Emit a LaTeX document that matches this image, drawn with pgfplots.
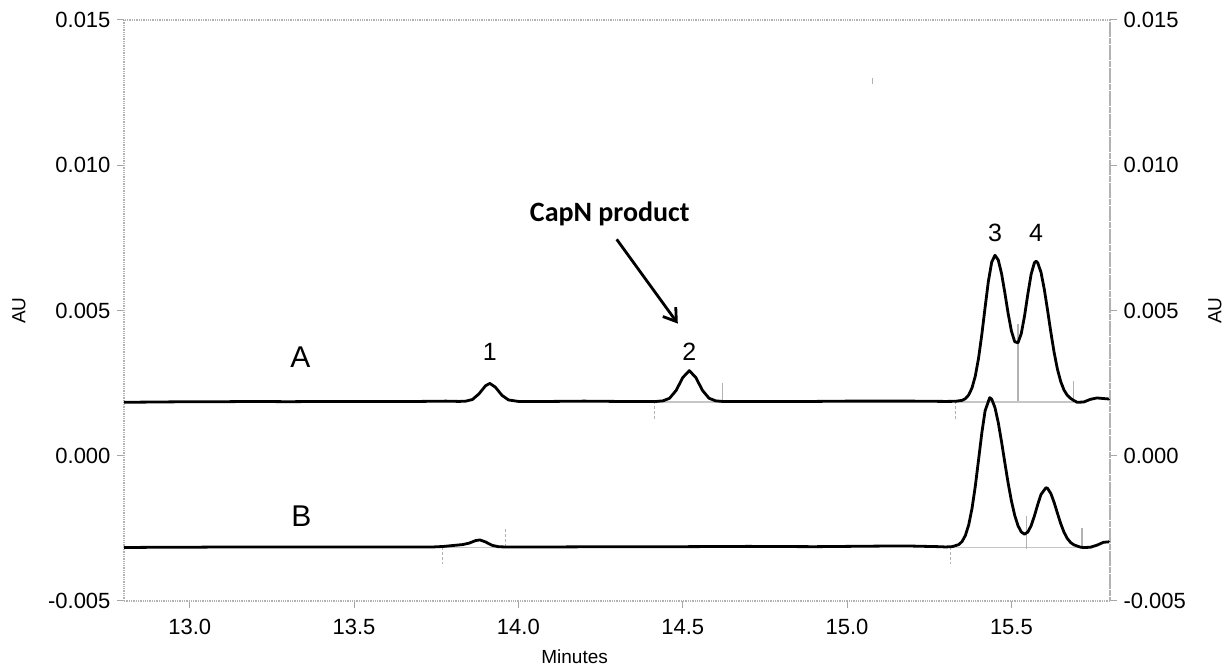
\documentclass[border=0pt]{standalone}
\usepackage{pgfplots}
\pgfplotsset{compat=1.18}
\usepackage{fontspec}
\setmainfont{Liberation Sans}
\newfontfamily\calibri{Carlito}
\usetikzlibrary{arrows.meta,calc}
\begin{document}
\begin{tikzpicture}
\pgfplotsset{
  chrom/.style={
    scale only axis, width=986pt, height=581pt,
    xmin=12.8, xmax=15.8, ymin=-0.005, ymax=0.015,
    ytick={-0.005,0,0.005,0.01,0.015},
    yticklabels={-0.005,0.000,0.005,0.010,0.015},
    scaled y ticks=false, scaled x ticks=false,
    tick align=outside, major tick length=7pt,
    tick style={gray!70, line width=1pt},
    axis line style={gray!60, densely dotted, line width=1.3pt},
    tick label style={font=\fontsize{22}{24}\selectfont, black},
    clip=false,
  }
}
\begin{axis}[chrom,
  xtick={13,13.5,14,14.5,15,15.5},
  xticklabels={13.0,13.5,14.0,14.5,15.0,15.5},
  xtick pos=bottom, ytick pos=left,
  xticklabel style={yshift=-8pt},
  yticklabel style={xshift=-3pt},
]
\coordinate (sw) at (rel axis cs:0,0);
\coordinate (ne) at (rel axis cs:1,1);
% integration baselines (trace A)
\addplot[gray!45, line width=1.5pt] coordinates {(14.415,0.00185) (14.62,0.00185)};
\addplot[gray!45, line width=1.5pt] coordinates {(15.33,0.00185) (15.69,0.00185)};
% integration baselines (trace B)
\addplot[gray!45, line width=1.5pt] coordinates {(13.77,-0.00316) (13.96,-0.00316)};
\addplot[gray!45, line width=1.5pt] coordinates {(15.315,-0.00316) (15.715,-0.00316)};
% integration markers A
\addplot[gray!60, line width=1.2pt, densely dashed] coordinates {(14.415,0.00187) (14.415,0.00121)};
\addplot[gray!60, line width=1.2pt] coordinates {(14.62,0.00187) (14.62,0.00252)};
\addplot[gray!60, line width=1.2pt, densely dashed] coordinates {(15.33,0.00187) (15.33,0.00121)};
\addplot[gray!60, line width=1.2pt] coordinates {(15.52,0.00187) (15.52,0.00455)};
\addplot[gray!60, line width=1.2pt] coordinates {(15.69,0.00187) (15.69,0.00259)};
\addplot[gray!60, line width=1pt] coordinates {(15.078,0.0128) (15.078,0.0130)};
% integration markers B
\addplot[gray!60, line width=1.2pt, densely dashed] coordinates {(13.77,-0.00314) (13.77,-0.00372)};
\addplot[gray!60, line width=1.2pt, densely dashed] coordinates {(13.96,-0.00314) (13.96,-0.00252)};
\addplot[gray!60, line width=1.2pt, densely dashed] coordinates {(15.315,-0.00314) (15.315,-0.00372)};
\addplot[gray!60, line width=1.2pt] coordinates {(15.545,-0.00207) (15.545,-0.0032)};
\addplot[gray!60, line width=1.2pt] coordinates {(15.715,-0.00314) (15.715,-0.00248)};
% trace A
\addplot[black, line width=2.8pt, line join=round] coordinates {
(12.80,0.00184) (12.90,0.00185) (13.00,0.00186) (13.10,0.00186) (13.20,0.00187)
(13.30,0.00186) (13.40,0.00187) (13.50,0.00187) (13.60,0.00187) (13.70,0.00187)
(13.78,0.00188) (13.82,0.00187) (13.84,0.00188) (13.86,0.001935) (13.88,0.00213)
(13.90,0.00241) (13.913,0.00249) (13.93,0.00236) (13.95,0.00208) (13.97,0.00192)
(14.00,0.00187) (14.10,0.00187) (14.20,0.00188) (14.30,0.00187) (14.40,0.00187)
(14.42,0.00187) (14.44,0.00189) (14.46,0.00198) (14.48,0.00225) (14.50,0.00269)
(14.52,0.00293) (14.54,0.00269) (14.56,0.00225) (14.58,0.00198) (14.60,0.00189)
(14.62,0.00187) (14.70,0.00187) (14.80,0.00187) (14.90,0.00187) (15.00,0.00188)
(15.10,0.00188) (15.20,0.00188) (15.30,0.00187) (15.33,0.001874) (15.35,0.001908)
(15.36,0.001966) (15.37,0.002091) (15.38,0.00233) (15.39,0.002737) (15.40,0.003354)
(15.41,0.004173) (15.42,0.005111) (15.43,0.006008) (15.44,0.006661) (15.45,0.006902)
(15.46,0.006737) (15.47,0.006272) (15.48,0.005612) (15.49,0.004902) (15.50,0.004295)
(15.51,0.003926) (15.52,0.003888) (15.53,0.004204) (15.54,0.004814) (15.55,0.005566)
(15.56,0.006247) (15.57,0.006646) (15.575,0.006694) (15.58,0.006644) (15.59,0.006316)
(15.60,0.005736) (15.61,0.005011) (15.62,0.004251) (15.63,0.003554) (15.64,0.002982)
(15.65,0.002554) (15.66,0.002263) (15.67,0.002081) (15.68,0.001976) (15.69,0.001900)
(15.70,0.00184) (15.72,0.00185) (15.74,0.00194) (15.76,0.00199) (15.78,0.00197)
(15.80,0.00195)
};
% trace B
\addplot[black, line width=2.8pt, line join=round] coordinates {
(12.80,-0.00316) (12.90,-0.00315) (13.00,-0.00315) (13.10,-0.00314) (13.20,-0.00314)
(13.30,-0.00314) (13.40,-0.00314) (13.50,-0.00314) (13.60,-0.00314) (13.70,-0.00314)
(13.74,-0.00314) (13.77,-0.003124) (13.80,-0.003091) (13.83,-0.003058) (13.85,-0.003009)
(13.87,-0.002919) (13.883,-0.002898) (13.90,-0.002967) (13.92,-0.003084) (13.94,-0.003132)
(13.96,-0.00314) (14.10,-0.00314) (14.30,-0.00313) (14.50,-0.00313) (14.70,-0.00312)
(14.90,-0.00313) (15.00,-0.00312) (15.10,-0.00311) (15.20,-0.00311) (15.28,-0.00313)
(15.30,-0.00314) (15.32,-0.003128) (15.34,-0.003057) (15.35,-0.00295) (15.36,-0.002743)
(15.37,-0.002382) (15.38,-0.001825) (15.39,-0.001061) (15.40,-0.000146) (15.41,0.000786)
(15.42,0.00155) (15.434,0.002) (15.44,0.00195) (15.45,0.001656) (15.46,0.001141)
(15.47,0.000481) (15.48,-0.00024) (15.49,-0.000939) (15.50,-0.001553) (15.51,-0.002048)
(15.52,-0.002407) (15.53,-0.002625) (15.54,-0.002699) (15.55,-0.002625) (15.56,-0.002408)
(15.57,-0.002072) (15.58,-0.001682) (15.59,-0.001334) (15.605,-0.0011) (15.61,-0.001123)
(15.62,-0.0013) (15.63,-0.001609) (15.64,-0.001978) (15.65,-0.002335) (15.66,-0.002631)
(15.67,-0.002847) (15.68,-0.002986) (15.69,-0.003066) (15.70,-0.003108) (15.71,-0.003147)
(15.72,-0.00316) (15.74,-0.00315) (15.76,-0.00308) (15.78,-0.00298) (15.80,-0.00296)
};
% annotations
\node[font=\fontsize{30}{32}\selectfont] at (axis cs:13.337,0.00338) {A};
\node[font=\fontsize{30}{32}\selectfont] at (axis cs:13.34,-0.00207) {B};
\node[font=\fontsize{25}{27}\selectfont] at (axis cs:13.913,0.00359) {1};
\node[font=\fontsize{25}{27}\selectfont] at (axis cs:14.52,0.00359) {2};
\node[font=\fontsize{25}{27}\selectfont] at (axis cs:15.45,0.00766) {3};
\node[font=\fontsize{25}{27}\selectfont] at (axis cs:15.575,0.00766) {4};
\node[font=\calibri\bfseries\fontsize{28}{30}\selectfont] at (axis cs:14.278,0.00831) {CapN product};
\draw[black, line width=2.8pt, -{Straight Barb[length=12pt,width=16pt,line width=2.8pt]}] (axis cs:14.299,0.00745) -- (axis cs:14.485,0.00455);
% axis titles
\node[font=\fontsize{19}{22}\selectfont] at ($(rel axis cs:0.457,0)+(0pt,-56pt)$) {Minutes};
\node[font=\fontsize{19}{22}\selectfont, rotate=90] at ($(rel axis cs:0,0.5)+(-105pt,0pt)$) {AU};
\node[font=\fontsize{19}{22}\selectfont, rotate=90] at ($(rel axis cs:1,0.5)+(105pt,0pt)$) {AU};
\end{axis}
\begin{axis}[chrom,
  axis x line=none, axis y line*=right,
  yticklabel style={xshift=3pt},
]
\addplot[draw=none] coordinates {(13,0)};
\end{axis}
\path (sw) ++(-124pt,-67pt) rectangle ([shift={(120pt,20pt)}]ne);
\end{tikzpicture}
\end{document}
